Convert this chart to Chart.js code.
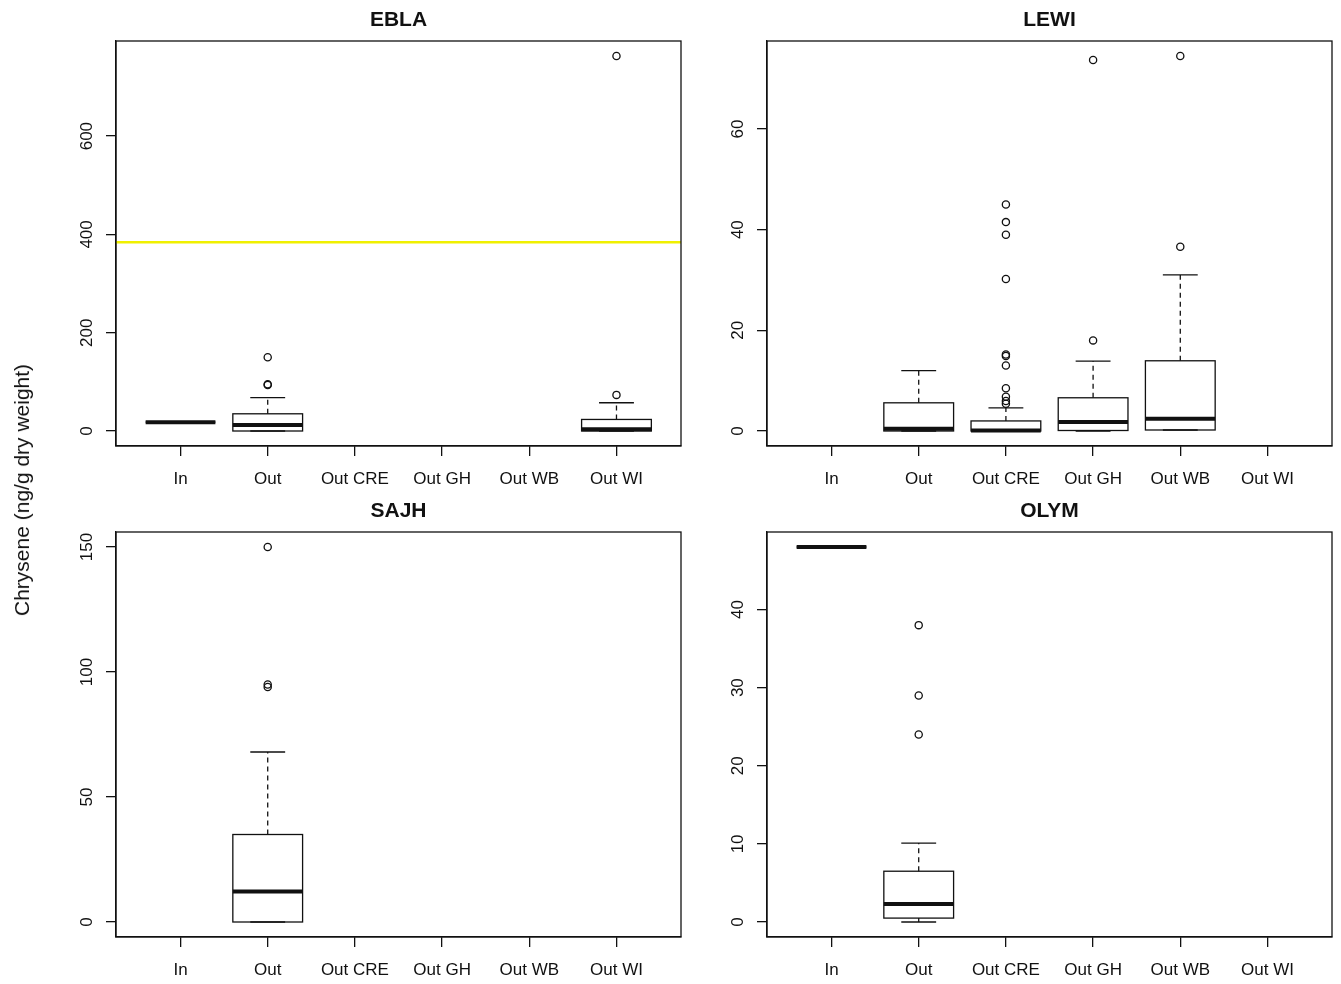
<!DOCTYPE html>
<html>
<head>
<meta charset="utf-8">
<script src="https://cdn.jsdelivr.net/npm/chart.js@4"></script>
<style>
  body { margin: 0; background: #fff; width: 1341px; height: 984px; position: relative; overflow: hidden; }
  canvas { position: absolute; }
  #yTitle {
    position: absolute; left: 22px; top: 490px; white-space: nowrap;
    font: 21px "Liberation Sans", Arial, sans-serif; color: #111;
    transform: translate(-50%, -50%) rotate(-90deg);
  }
</style>
</head>
<body>
<canvas id="ebla" width="690" height="492" style="left:0;top:0"></canvas>
<canvas id="lewi" width="651" height="492" style="left:690px;top:0"></canvas>
<canvas id="sajh" width="690" height="492" style="left:0;top:492px"></canvas>
<canvas id="olym" width="651" height="492" style="left:690px;top:492px"></canvas>
<div id="yTitle">Chrysene (ng/g dry weight)</div>
<script>
const categories = ["In", "Out", "Out CRE", "Out GH", "Out WB", "Out WI"];

// box stats per category: [lower whisker, Q1, median, Q3, upper whisker]
const eblaStats = [[18, 18, 18, 18, 18], [0, 0, 12, 35, 68], null, null, null, [0, 0, 3.5, 23.5, 57.5]];
const eblaOutliers = [[], [93.5, 95, 150], [], [], [], [73.5, 763]];
const eblaTicks = [0, 200, 400, 600];
const eblaGuide = 384;

const lewiStats = [null, [0, 0, 0.45, 5.6, 12], [0, 0, 0.1, 2.0, 4.6], [0, 0.1, 1.8, 6.6, 13.9], [0.2, 0.2, 2.45, 13.95, 31], null];
const lewiOutliers = [[], [], [5.4, 5.95, 6.8, 8.5, 13, 14.9, 15.2, 30.2, 39, 41.5, 45], [18, 73.7], [36.6, 74.5], []];
const lewiTicks = [0, 20, 40, 60];

const sajhStats = [null, [0, 0, 12.2, 35, 68], null, null, null, null];
const sajhOutliers = [[], [94, 95, 150], [], [], [], []];
const sajhTicks = [0, 50, 100, 150];

const olymStats = [[48, 48, 48, 48, 48], [0, 0.5, 2.3, 6.5, 10.1], null, null, null, null];
const olymOutliers = [[], [24, 29, 38], [], [], [], []];
const olymTicks = [0, 10, 20, 30, 40];

const FONT = '"Liberation Sans", Arial, sans-serif';
const INK = "#111";

function makePanel(id, name, stats, outliers, yTicks, guide, pad) {
  // R style limits: data range stretched by 4%
  let all = [];
  stats.forEach((s) => { if (s) all = all.concat(s); });
  outliers.forEach((o) => { all = all.concat(o); });
  const lo = Math.min(...all), hi = Math.max(...all);
  const r = hi - lo;
  const xr = categories.length;

  const points = [];
  outliers.forEach((list, i) => list.forEach((v) => points.push({ x: i + 1, y: v })));

  const boxPlugin = {
    id: "boxes" + id,
    beforeDatasetsDraw(chart) {
      const { ctx, chartArea: a, scales: { x, y } } = chart;
      ctx.save();
      ctx.beginPath();
      ctx.rect(a.left, a.top, a.right - a.left, a.bottom - a.top);
      ctx.clip();
      if (guide != null) {
        const gy = y.getPixelForValue(guide);
        ctx.strokeStyle = "#f0f000";
        ctx.lineWidth = 2.5;
        ctx.beginPath();
        ctx.moveTo(a.left, gy);
        ctx.lineTo(a.right, gy);
        ctx.stroke();
      }
      stats.forEach((s, i) => {
        if (!s) return;
        const cx = x.getPixelForValue(i + 1);
        const half = (x.getPixelForValue(i + 1.4) - x.getPixelForValue(i + 0.6)) / 2;
        const cap = half / 2;
        const [w0, q1, md, q3, w1] = s.map((v) => y.getPixelForValue(v));
        ctx.strokeStyle = INK;
        ctx.lineWidth = 1.3;
        // whiskers
        ctx.setLineDash([5, 4]);
        ctx.beginPath();
        ctx.moveTo(cx, q3); ctx.lineTo(cx, w1);
        ctx.moveTo(cx, q1); ctx.lineTo(cx, w0);
        ctx.stroke();
        ctx.setLineDash([]);
        ctx.beginPath();
        ctx.moveTo(cx - cap, w1); ctx.lineTo(cx + cap, w1);
        ctx.moveTo(cx - cap, w0); ctx.lineTo(cx + cap, w0);
        ctx.stroke();
        // box
        ctx.strokeRect(cx - half, q3, half * 2, q1 - q3);
        // median
        ctx.lineWidth = 4;
        ctx.beginPath();
        ctx.moveTo(cx - half, md); ctx.lineTo(cx + half, md);
        ctx.stroke();
      });
      ctx.restore();
    },
    afterDraw(chart) {
      const { ctx, chartArea: a, scales: { x, y } } = chart;
      ctx.save();
      ctx.strokeStyle = INK;
      ctx.lineWidth = 1.3;
      ctx.strokeRect(a.left, a.top, a.right - a.left, a.bottom - a.top);
      ctx.fillStyle = INK;
      ctx.textAlign = "center";
      ctx.textBaseline = "middle";
      ctx.font = "bold 21px " + FONT;
      ctx.fillText(name, (a.left + a.right) / 2, a.top - 21);
      ctx.font = "17px " + FONT;
      x.ticks.forEach((t) => {
        ctx.fillText(categories[t.value - 1], x.getPixelForValue(t.value), a.bottom + 33);
      });
      y.ticks.forEach((t) => {
        ctx.save();
        ctx.translate(a.left - 29, y.getPixelForValue(t.value));
        ctx.rotate(-Math.PI / 2);
        ctx.fillText(String(t.value), 0, 0);
        ctx.restore();
      });
      ctx.restore();
    },
  };

  return new Chart(document.getElementById(id), {
    type: "scatter",
    data: {
      datasets: [{
        data: points,
        pointStyle: "circle",
        pointRadius: 3.6,
        pointHoverRadius: 3.6,
        pointBorderColor: INK,
        pointBackgroundColor: "rgba(0,0,0,0)",
        pointBorderWidth: 1.3,
      }],
    },
    options: {
      responsive: false,
      animation: false,
      devicePixelRatio: 1,
      layout: { padding: pad },
      plugins: { legend: { display: false }, tooltip: { enabled: false } },
      scales: {
        x: {
          type: "linear",
          min: 0.5 - 0.04 * xr,
          max: xr + 0.5 + 0.04 * xr,
          afterBuildTicks: (s) => { s.ticks = categories.map((c, i) => ({ value: i + 1 })); },
          afterFit: (s) => { s.height = 46; },
          grid: { drawOnChartArea: false, tickLength: 10, color: INK, lineWidth: 1.3 },
          border: { color: INK, width: 1.3 },
          ticks: { color: "rgba(0,0,0,0)" },
        },
        y: {
          type: "linear",
          min: lo - 0.04 * r,
          max: hi + 0.04 * r,
          afterBuildTicks: (s) => { s.ticks = yTicks.map((v) => ({ value: v })); },
          afterFit: (s) => { s.width = 60; },
          grid: { drawOnChartArea: false, tickLength: 10, color: INK, lineWidth: 1.3 },
          border: { color: INK, width: 1.3 },
          ticks: { color: "rgba(0,0,0,0)" },
        },
      },
    },
    plugins: [boxPlugin],
  });
}

makePanel("ebla", "EBLA", eblaStats, eblaOutliers, eblaTicks, eblaGuide, { left: 56, right: 9, top: 41, bottom: 0 });
makePanel("lewi", "LEWI", lewiStats, lewiOutliers, lewiTicks, null, { left: 17, right: 9, top: 41, bottom: 0 });
makePanel("sajh", "SAJH", sajhStats, sajhOutliers, sajhTicks, null, { left: 56, right: 9, top: 40, bottom: 1 });
makePanel("olym", "OLYM", olymStats, olymOutliers, olymTicks, null, { left: 17, right: 9, top: 40, bottom: 1 });
</script>
</body>
</html>
